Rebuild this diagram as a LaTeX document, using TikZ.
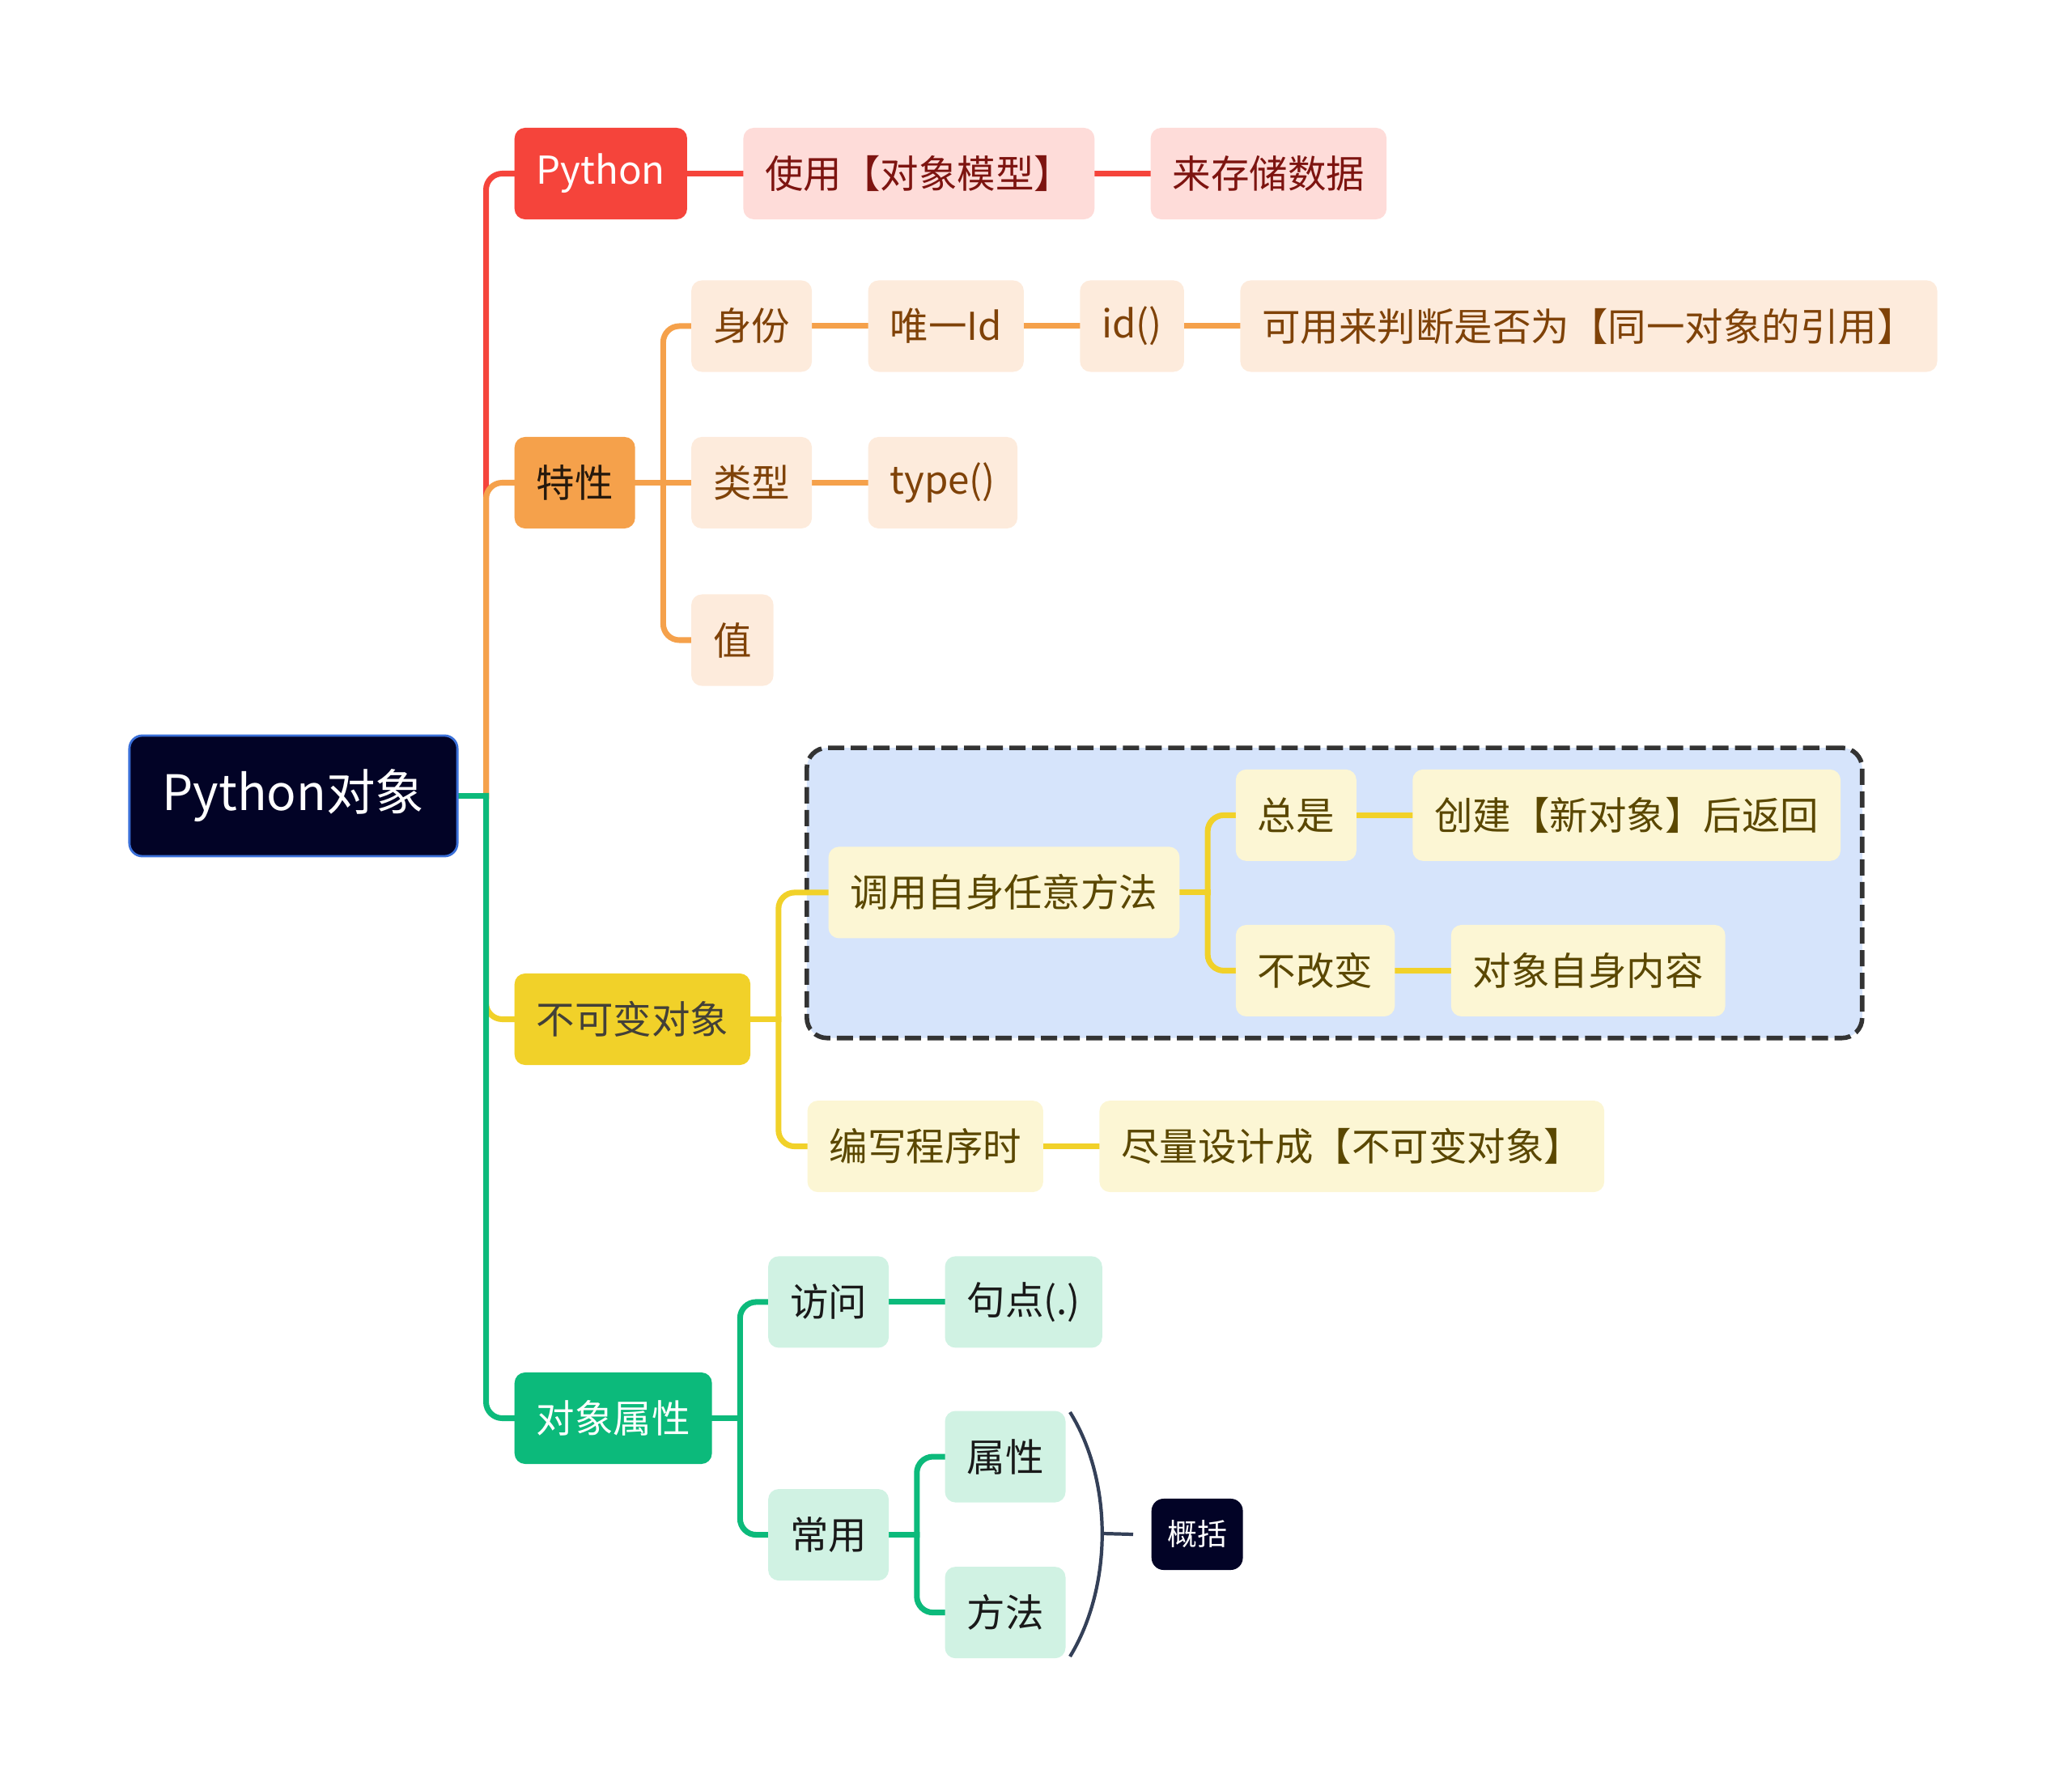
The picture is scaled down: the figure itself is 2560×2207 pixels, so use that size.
\documentclass[tikz,border=0pt]{standalone}
\usepackage{fontspec}
\setmainfont{Noto Sans CJK SC}
\usetikzlibrary{positioning, calc, fit, backgrounds}

\definecolor{rootfill}{HTML}{020326}
\definecolor{rootline}{HTML}{3A6FD8}
\definecolor{pyred}{HTML}{F5443B}
\definecolor{pyredlight}{HTML}{FEDCD9}
\definecolor{pyredtext}{HTML}{7D1410}
\definecolor{traitorange}{HTML}{F5A14B}
\definecolor{traitlight}{HTML}{FDEBDC}
\definecolor{traittext}{HTML}{7F4208}
\definecolor{immyellow}{HTML}{F1D129}
\definecolor{immlight}{HTML}{FCF6D4}
\definecolor{immtext}{HTML}{5A4700}
\definecolor{attrgreen}{HTML}{0CBA7B}
\definecolor{attrlight}{HTML}{D0F2E3}
\definecolor{groupfill}{HTML}{D6E4FB}
\definecolor{groupline}{HTML}{333333}
\definecolor{braceline}{HTML}{344058}

\pgfdeclarelayer{back}
\pgfdeclarelayer{links}
\pgfsetlayers{back,links,main}

\newcommand{\branch}[3]{%
  \draw[link,#1] (#2.east) -- ($(#2.east)+(34,0)$);
  \draw[link,#1,rounded corners=0.2cm] ($(#2.east)+(34,0)$) |- (#3.west);
}
\newcommand{\chain}[3]{%
  \draw[link,#1] (#2.east) -- (#3.west);
}

\begin{document}
\begin{tikzpicture}[
    x=0.01cm, y=-0.01cm, node distance=0.68cm,
    link/.style={line width=2pt, line cap=rect},
    topic/.style={rounded corners=0.13cm, minimum height=1.13cm, inner xsep=0.27cm, inner ysep=0pt, font=\fontsize{13.5pt}{16pt}\selectfont},
    rootbox/.style={rounded corners=0.16cm, minimum height=1.49cm, minimum width=4.05cm, inner ysep=0pt, fill=rootfill, draw=rootline, line width=0.8pt, text=white, font=\fontsize{17.2pt}{20pt}\selectfont},
    redmain/.style={topic, fill=pyred, text=white},
    redsub/.style={topic, fill=pyredlight, text=pyredtext},
    orangemain/.style={topic, fill=traitorange, text=black!80!brown},
    orangesub/.style={topic, fill=traitlight, text=traittext},
    yellowmain/.style={topic, fill=immyellow, text=black!85!yellow},
    yellowsub/.style={topic, fill=immlight, text=immtext},
    greenmain/.style={topic, fill=attrgreen, text=white},
    greensub/.style={topic, fill=attrlight, text=black!90},
    groupbox/.style={draw=groupline, fill=groupfill, dash pattern=on 0.2cm off 0.08cm, line width=1.6pt, rounded corners=0.25cm, inner sep=0.26cm},
    summarybox/.style={rounded corners=0.15cm, minimum height=0.88cm, inner xsep=0.195cm, inner ysep=0pt, fill=rootfill, text=white, font=\fontsize{10.5pt}{12pt}\selectfont},
    brace/.style={draw=braceline, line width=1.2pt}
]
\useasboundingbox (0,0) rectangle (2560,2207);

\node (root) [rootbox] at (362.5,983.5) {Python对象};

\node (python) [redmain, anchor=west] at (635,214.5) {Python};
\node (model) [redsub, right=of python] {使用【对象模型】};
\node (store) [redsub, right=of model] {来存储数据};

\node (trait) [orangemain, anchor=west] at (635,596.5) {特性};
\node (kind) [orangesub, right=of trait] {类型};
\node (identity) [orangesub, above=0.79cm of kind] {身份};
\node (value) [orangesub, below=0.8cm of kind.south west, anchor=north west] {值};
\node (uniqueid) [orangesub, right=of identity] {唯一Id};
\node (idfunc) [orangesub, right=of uniqueid] {id()};
\node (sameref) [orangesub, right=of idfunc] {可用来判断是否为【同一对象的引用】};
\node (typefunc) [orangesub, right=of kind] {type()};

\node (immut) [yellowmain, anchor=west] at (635,1259.5) {不可变对象};
\node (callself) [yellowsub, right=0.95cm of immut, yshift=1.565cm] {调用自身任意方法};
\node (always) [yellowsub, right=of callself, yshift=0.955cm] {总是};
\node (newobj) [yellowsub, right=of always] {创建【新对象】后返回};
\node (nochange) [yellowsub, right=of callself, yshift=-0.965cm] {不改变};
\node (content) [yellowsub, right=of nochange] {对象自身内容};
\node (coding) [yellowsub, right=0.69cm of immut, yshift=-1.57cm] {编写程序时};
\node (design) [yellowsub, right=of coding] {尽量设计成【不可变对象】};

\node (attrs) [greenmain, anchor=west] at (635,1752.5) {对象属性};
\node (access) [greensub, right=of attrs, yshift=1.435cm] {访问};
\node (dot) [greensub, right=of access] {句点(.)};
\node (common) [greensub, right=of attrs, yshift=-1.44cm] {常用};
\node (property) [greensub, right=of common, yshift=0.965cm] {属性};
\node (method) [greensub, right=of common, yshift=-0.96cm] {方法};

\coordinate (brtop) at (1322,1745);
\coordinate (brtip) at (1362,1895);
\coordinate (brbot) at (1322,2047);
\node (summary) [summarybox, anchor=west] at (1422,1896) {概括};

\begin{pgfonlayer}{back}
\node (group) [groupbox, fit=(callself)(always)(newobj)(nochange)(content)] {};
\end{pgfonlayer}

\begin{pgfonlayer}{links}
\branch{pyred}{root}{python}
\chain{pyred}{python}{model}
\chain{pyred}{model}{store}

\branch{traitorange}{root}{trait}
\branch{traitorange}{trait}{identity}
\chain{traitorange}{trait}{kind}
\branch{traitorange}{trait}{value}
\chain{traitorange}{identity}{uniqueid}
\chain{traitorange}{uniqueid}{idfunc}
\chain{traitorange}{idfunc}{sameref}
\chain{traitorange}{kind}{typefunc}

\branch{immyellow}{root}{immut}
\branch{immyellow}{immut}{callself}
\branch{immyellow}{immut}{coding}
\branch{immyellow}{callself}{always}
\branch{immyellow}{callself}{nochange}
\chain{immyellow}{always}{newobj}
\chain{immyellow}{nochange}{content}
\chain{immyellow}{coding}{design}

\branch{attrgreen}{root}{attrs}
\branch{attrgreen}{attrs}{access}
\branch{attrgreen}{attrs}{common}
\chain{attrgreen}{access}{dot}
\branch{attrgreen}{common}{property}
\branch{attrgreen}{common}{method}
\end{pgfonlayer}

\draw[brace] (brtop) .. controls (1375,1830) and (1375,1960) .. (brbot);
\draw[brace] (brtip) -- ([xshift=-0.22cm]summary.west);
\end{tikzpicture}
\end{document}
